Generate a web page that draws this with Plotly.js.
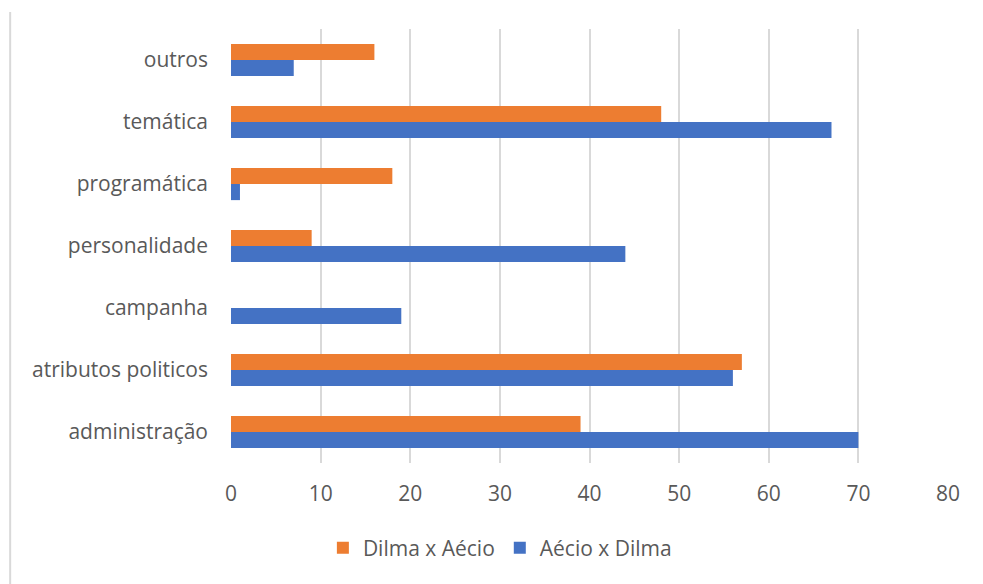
<!DOCTYPE html>
<html>
<head>
<meta charset="utf-8">
<script src="https://cdn.plot.ly/plotly-3.0.1.min.js"></script>
<style>
  html, body { margin: 0; padding: 0; background: #ffffff; }
  #chart { width: 983px; height: 584px; }
</style>
</head>
<body>
<div id="chart"></div>
<script>
// Categories listed bottom to top
const categories = [
  "administração",
  "atributos politicos",
  "campanha",
  "personalidade",
  "programática",
  "temática",
  "outros"
];

const aecioXDilma = [70, 56, 19, 44, 1, 67, 7];
const dilmaXAecio = [39, 57, 0, 9, 18, 48, 16];

const seriesNames = ["Aécio x Dilma", "Dilma x Aécio"];
const xTicks = [0, 10, 20, 30, 40, 50, 60, 70, 80];

const labelFont = { family: "Open Sans, Noto Sans, sans-serif", size: 21, color: "#595959" };

const traces = [
  {
    type: "bar",
    orientation: "h",
    name: seriesNames[0],
    y: categories,
    x: aecioXDilma,
    marker: { color: "#4472C4" },
    hoverinfo: "x+y+name"
  },
  {
    type: "bar",
    orientation: "h",
    name: seriesNames[1],
    y: categories,
    x: dilmaXAecio,
    marker: { color: "#ED7D31" },
    hoverinfo: "x+y+name"
  }
];

const layout = {
  width: 983,
  height: 584,
  paper_bgcolor: "#ffffff",
  plot_bgcolor: "#ffffff",
  margin: { l: 231, r: 35, t: 29, b: 121 },
  barmode: "group",
  bargap: 0.48,
  bargroupgap: 0,
  font: labelFont,
  xaxis: {
    range: [0, 80],
    tickvals: xTicks,
    ticktext: xTicks.map(String),
    showgrid: true,
    gridcolor: "#d9d9d9",
    gridwidth: 2,
    zeroline: false,
    showline: false,
    ticks: "",
    ticklabelstandoff: 16,
    tickfont: labelFont,
    fixedrange: true
  },
  yaxis: {
    type: "category",
    categoryorder: "array",
    categoryarray: categories,
    showgrid: false,
    zeroline: false,
    showline: false,
    ticks: "",
    ticklabelstandoff: 22,
    tickfont: labelFont,
    fixedrange: true
  },
  showlegend: true,
  legend: {
    orientation: "h",
    traceorder: "reversed",
    x: 0.375,
    xanchor: "center",
    y: -0.196,
    yanchor: "middle",
    font: labelFont,
    itemclick: false,
    itemdoubleclick: false
  },
  shapes: [
    {
      type: "line",
      xref: "paper",
      yref: "paper",
      x0: -0.308, x1: -0.308,
      y0: 1.039, y1: -0.3,
      line: { color: "#d9d9d9", width: 2 }
    }
  ]
};

Plotly.newPlot("chart", traces, layout, { displayModeBar: false, staticPlot: true });
</script>
</body>
</html>
